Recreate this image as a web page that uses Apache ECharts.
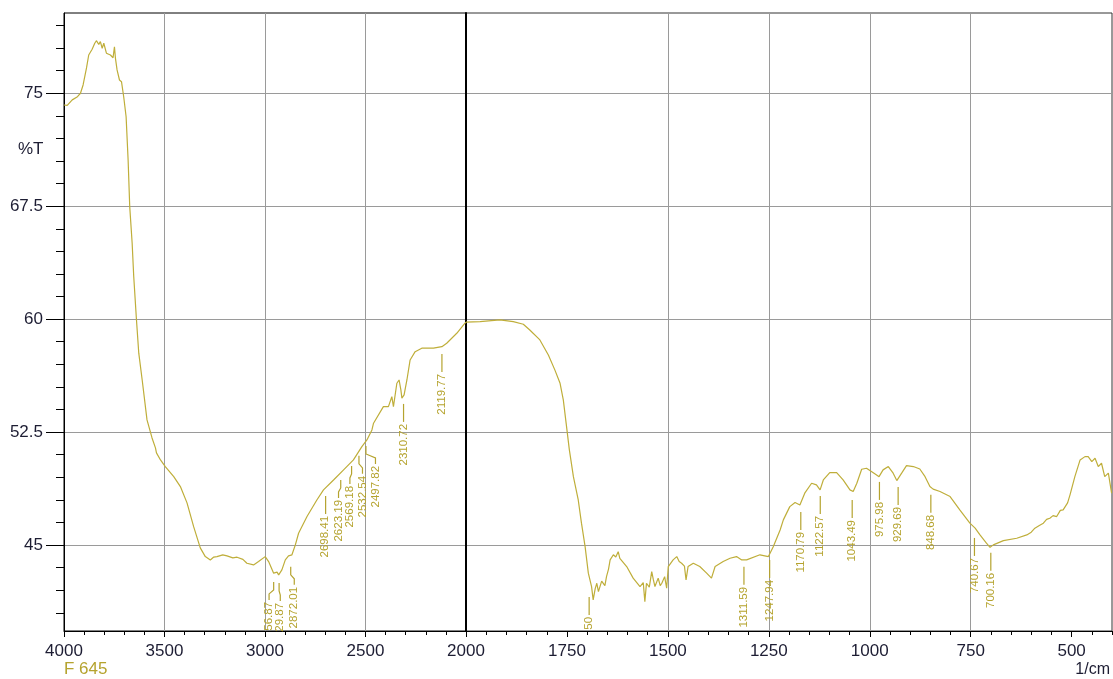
<!DOCTYPE html>
<html>
<head>
<meta charset="utf-8">
<script src="https://cdn.jsdelivr.net/npm/echarts@6/dist/echarts.min.js"></script>
<style>
html,body{margin:0;padding:0;background:#fff;}
#chart{width:1113px;height:679px;}
</style>
</head>
<body>
<div id="chart"></div>
<script>
// ---- data (wavenumber 1/cm, %T) ----
const leftSpectrum = [
[4000,74.22],[3984,74.20],[3959,74.56],[3933,74.77],[3918,75.00],[3905,75.55],[3888,76.68],[3877,77.54],
[3860,77.92],[3847,78.32],[3839,78.49],[3827,78.25],[3819,78.43],[3810,77.99],[3802,78.32],[3789,77.66],
[3769,77.54],[3756,77.36],[3749,78.09],[3744,77.32],[3736,76.55],[3724,75.88],[3714,75.77],[3703,74.77],
[3691,73.44],[3681,70.57],[3673,67.47],[3661,65.06],[3653,62.82],[3640,60.06],[3628,57.74],[3611,55.96],
[3587,53.31],[3562,52.11],[3545,51.45],[3540,51.12],[3520,50.65],[3496,50.21],[3454,49.54],[3421,48.88],
[3388,47.80],[3355,46.22],[3322,44.81],[3297,44.23],[3272,44.01],[3255,44.20],[3239,44.23],[3210,44.35],
[3189,44.28],[3160,44.15],[3139,44.19],[3110,44.05],[3090,43.79],[3057,43.68],[3032,43.90],[2999,44.23],
[2982,43.90],[2957,43.13],[2940,43.20],[2932,43.02],[2916,43.35],[2899,44.01],[2883,44.28],[2866,44.35],
[2849,45.01],[2833,45.78],[2791,46.89],[2742,47.99],[2709,48.66],[2659,49.32],[2609,49.99],[2560,50.65],
[2518,51.53],[2493,51.98],[2468,52.64],[2460,53.09],[2411,54.19],[2386,54.19],[2369,54.85],[2361,54.19],
[2344,55.74],[2333,55.96],[2324,55.30],[2319,54.75],[2308,54.97],[2294,55.96],[2278,57.29],[2253,57.84],
[2220,58.07],[2162,58.07],[2120,58.17],[2096,58.40],[2046,59.06],[2005,59.73],[2000,59.80]
];
const rightSpectrum = [
[2000,59.80],[1965,59.83],[1916,59.95],[1883,59.83],[1858,59.66],[1842,59.28],[1817,58.62],[1796,57.62],
[1780,56.63],[1767,55.74],[1759,54.64],[1752,53.09],[1744,51.32],[1734,49.54],[1722,47.99],[1714,46.45],
[1705,44.89],[1697,43.13],[1689,42.24],[1685,41.36],[1680,42.10],[1676,42.46],[1672,41.90],[1668,42.02],
[1664,42.60],[1660,42.68],[1656,42.30],[1652,42.90],[1647,43.40],[1643,44.01],[1635,44.35],[1629,44.20],
[1623,44.56],[1619,44.12],[1602,43.57],[1586,42.80],[1569,42.24],[1561,42.50],[1557,41.24],[1553,42.46],
[1546,42.20],[1540,43.23],[1536,42.70],[1532,42.24],[1524,42.80],[1519,42.30],[1515,42.46],[1508,42.90],
[1503,42.13],[1499,43.57],[1487,44.01],[1478,44.23],[1472,43.90],[1466,43.79],[1459,43.60],[1455,42.68],
[1450,43.57],[1437,43.79],[1421,43.57],[1404,43.13],[1392,42.80],[1383,43.57],[1363,43.90],[1346,44.12],
[1330,44.23],[1317,44.01],[1305,44.01],[1272,44.35],[1251,44.23],[1239,44.89],[1222,46.00],[1214,46.67],
[1198,47.55],[1185,47.82],[1173,47.66],[1161,48.44],[1144,49.10],[1132,48.99],[1123,48.66],[1115,49.32],
[1099,49.81],[1082,49.81],[1066,49.32],[1049,48.66],[1041,48.55],[1032,49.10],[1020,50.03],[1008,50.10],
[995,49.87],[983,49.65],[977,49.54],[967,49.99],[954,50.21],[942,49.77],[933,49.28],[921,49.77],
[909,50.27],[892,50.21],[876,50.05],[863,49.54],[851,48.88],[843,48.71],[826,48.55],[801,48.22],
[777,47.33],[752,46.45],[739,46.12],[727,45.67],[711,45.12],[702,44.85],[694,45.01],[669,45.29],
[636,45.45],[611,45.67],[600,45.85],[591,46.12],[580,46.30],[570,46.45],[562,46.70],[554,46.78],
[546,46.95],[537,46.89],[528,47.30],[521,47.33],[510,47.80],[504,48.33],[492,49.54],[479,50.65],
[467,50.87],[459,50.87],[450,50.54],[442,50.76],[434,50.21],[426,50.43],[418,49.54],[409,49.77],[401,48.44]
];

const leftPeakWn     = [2956.87, 2929.87, 2872.01, 2698.41, 2623.19, 2569.18, 2532.54, 2497.82, 2310.72, 2119.77];
const leftPeakTextWn = [2979.7, 2924.0, 2854.4, 2700.4, 2634.2, 2577.6, 2515.0, 2450.4, 2310.72, 2119.77];
const leftPeakLevel  = [42.55, 42.48, 43.55, 48.26, 49.32, 50.25, 50.92, 51.58, 54.37, 57.69];
const leftPeakText   = ['56.87', '29.87', '2872.01', '2698.41', '2623.19', '2569.18', '2532.54', '2497.82', '2310.72', '2119.77'];

const rightPeakWn    = [1695, 1311.59, 1247.94, 1170.79, 1122.57, 1043.49, 975.98, 929.69, 848.68, 740.67, 700.16];
const rightPeakLevel = [41.55, 43.55, 44.01, 47.20, 48.26, 47.99, 49.19, 48.86, 48.33, 45.47, 44.48];
const rightPeakText  = ['50', '1311.59', '1247.94', '1170.79', '1122.57', '1043.49', '975.98', '929.69', '848.68', '740.67', '700.16'];

const yMajorTicks = [45, 52.5, 60, 67.5, 75];
const yMinorTicks = [40.5, 42, 43.5, 46.5, 48, 49.5, 51, 54, 55.5, 57, 58.5, 61.5, 63, 64.5, 66, 69, 70.5, 72, 73.5, 76.5, 78, 79.5];
const xRightMajorTicks = [500, 750, 1000, 1250, 1500, 1750];
const yRange = [39.29, 80.33];

// ---- styles ----
const LINE = '#bfae3a';
const TAG = '#b5a32e';
const TXT = '#1d1d33';
const GRIDC = '#9a9a9a';
const FONT = '"Liberation Sans", Arial, sans-serif';

function peakRenderer(wns, textWns, levels, texts) {
  return function (params, api) {
    const i = params.dataIndex;
    const p = api.coord([wns[i], levels[i]]);
    const q = api.coord([textWns[i], levels[i]]);
    const x1 = p[0], y0 = p[1], x2 = q[0];
    const pts = (Math.abs(x1 - x2) < 0.5)
      ? [[x1, y0], [x1, y0 + 18]]
      : [[x1, y0], [x1, y0 + 8], [x2, y0 + 12], [x2, y0 + 18]];
    return {
      type: 'group',
      children: [
        { type: 'polyline', shape: { points: pts }, style: { stroke: TAG, lineWidth: 1.2, fill: null } },
        { type: 'text', x: x2, y: y0 + 20, rotation: Math.PI / 2,
          style: { text: texts[i], fill: TAG, font: '11.5px ' + FONT, align: 'right', verticalAlign: 'middle' } }
      ]
    };
  };
}

const chart = echarts.init(document.getElementById('chart'), null, { renderer: 'canvas' });
const plain = v => String(v);
const axisLbl = { color: TXT, fontSize: 17, fontFamily: FONT, formatter: plain };

chart.setOption({
  animation: false,
  backgroundColor: '#fff',
  grid: [
    { left: 64, top: 13, width: 402, height: 618, show: true, borderColor: '#000', borderWidth: 1 },
    { left: 466, top: 13, width: 646, height: 618, show: true, borderColor: '#333', borderWidth: 1 }
  ],
  xAxis: [
    { gridIndex: 0, type: 'value', min: 2000, max: 4000, interval: 500, inverse: true, position: 'bottom',
      axisLine: { show: true, lineStyle: { color: '#000', width: 1 } },
      axisTick: { show: true, length: 6, lineStyle: { color: '#000' } },
      minorTick: { show: true, splitNumber: 5, length: 4, lineStyle: { color: '#000' } },
      axisLabel: Object.assign({ margin: 12 }, axisLbl),
      splitLine: { show: true, showMinLine: false, showMaxLine: false, lineStyle: { color: GRIDC, width: 1 } }
    },
    { gridIndex: 1, type: 'value', min: 400, max: 2000, inverse: true, position: 'bottom',
      axisLine: { show: true, lineStyle: { color: '#000', width: 1 } },
      axisTick: { show: true, length: 6, customValues: xRightMajorTicks, lineStyle: { color: '#000' } },
      axisLabel: Object.assign({ margin: 12, customValues: xRightMajorTicks }, axisLbl),
      splitLine: { show: true, showMinLine: false, showMaxLine: false, lineStyle: { color: GRIDC, width: 1 } }
    },
    { gridIndex: 1, type: 'value', min: 400, max: 2000, interval: 50, inverse: true, position: 'bottom',
      axisLine: { show: false },
      axisTick: { show: true, length: 4, lineStyle: { color: '#000' } },
      axisLabel: { show: false },
      splitLine: { show: false }
    }
  ],
  yAxis: [
    { gridIndex: 0, type: 'value', min: yRange[0], max: yRange[1], position: 'left',
      axisLine: { show: true, lineStyle: { color: '#000', width: 1 } },
      axisTick: { show: true, length: 18, customValues: yMajorTicks, lineStyle: { color: '#000' } },
      axisLabel: Object.assign({ margin: 21, customValues: yMajorTicks }, axisLbl),
      splitLine: { show: true, lineStyle: { color: GRIDC, width: 1 } }
    },
    { gridIndex: 0, type: 'value', min: yRange[0], max: yRange[1], position: 'left',
      axisLine: { show: false },
      axisTick: { show: true, length: 8, customValues: yMinorTicks, lineStyle: { color: '#000' } },
      axisLabel: { show: false },
      splitLine: { show: false }
    },
    { gridIndex: 1, type: 'value', min: yRange[0], max: yRange[1], position: 'left',
      axisLine: { show: true, lineStyle: { color: '#000', width: 2 } },
      axisTick: { show: false, customValues: yMajorTicks },
      axisLabel: { show: false },
      splitLine: { show: true, lineStyle: { color: GRIDC, width: 1 } }
    }
  ],
  graphic: [
    { type: 'text', left: 18, top: 141, style: { text: '%T', fill: TXT, font: '17px ' + FONT } },
    { type: 'text', left: 64, top: 661, style: { text: 'F 645', fill: TAG, font: '17px ' + FONT } },
    { type: 'text', right: 3, top: 662, style: { text: '1/cm', fill: TXT, font: '16px ' + FONT } }
  ],
  series: [
    { type: 'line', xAxisIndex: 0, yAxisIndex: 0, data: leftSpectrum, showSymbol: false, clip: true,
      lineStyle: { color: LINE, width: 1.2 }, z: 5 },
    { type: 'line', xAxisIndex: 1, yAxisIndex: 2, data: rightSpectrum, showSymbol: false, clip: true,
      lineStyle: { color: LINE, width: 1.2 }, z: 5 },
    { type: 'custom', xAxisIndex: 0, yAxisIndex: 0, z: 6,
      data: leftPeakWn.map((w, i) => [w, leftPeakLevel[i]]),
      renderItem: peakRenderer(leftPeakWn, leftPeakTextWn, leftPeakLevel, leftPeakText) },
    { type: 'custom', xAxisIndex: 1, yAxisIndex: 2, z: 6,
      data: rightPeakWn.map((w, i) => [w, rightPeakLevel[i]]),
      renderItem: peakRenderer(rightPeakWn, rightPeakWn, rightPeakLevel, rightPeakText) }
  ]
});
</script>
</body>
</html>
